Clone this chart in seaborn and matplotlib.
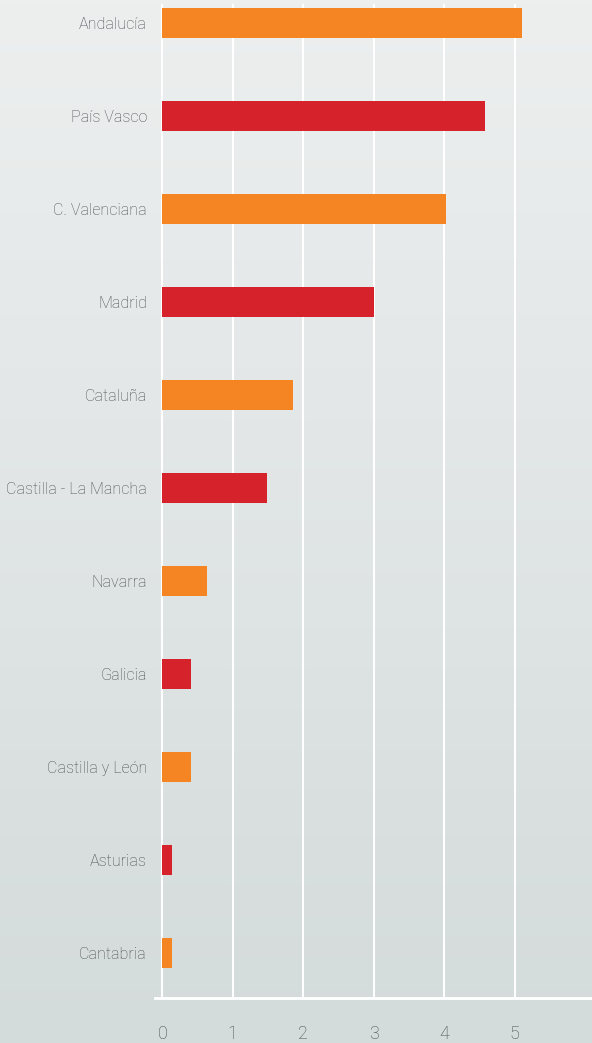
import matplotlib
matplotlib.use("Agg")
import matplotlib.pyplot as plt
import numpy as np
import pandas as pd
import seaborn as sns

regions = ["Andalucía", "País Vasco", "C. Valenciana", "Madrid", "Cataluña",
           "Castilla - La Mancha", "Navarra", "Galicia", "Castilla y León",
           "Asturias", "Cantabria"]
values = [5.11, 4.58, 4.03, 3.01, 1.86, 1.48, 0.64, 0.41, 0.41, 0.13, 0.14]
ORANGE = "#F58423"
RED = "#D5222B"
bar_colors = [ORANGE, RED] * 5 + [ORANGE]
x_ticks = [0, 1, 2, 3, 4, 5]

df = pd.DataFrame({"region": regions, "value": values})

sns.set_style("white")
plt.rcParams["font.family"] = ["Roboto", "DejaVu Sans"]

fig = plt.figure(figsize=(5.92, 10.43), dpi=100)

# gradient background over the whole figure
bg = fig.add_axes([0, 0, 1, 1], zorder=-10)
grad = np.linspace(0, 1, 256).reshape(-1, 1)
cmap = matplotlib.colors.LinearSegmentedColormap.from_list("bg", ["#edefef", "#d4dbdb"])
bg.imshow(grad, aspect="auto", cmap=cmap, extent=[0, 1, 0, 1], origin="upper")
bg.axis("off")

W, H = 592, 1043
left, right, top, bottom = 155.3, 592, 4, 998
ax = fig.add_axes([left / W, 1 - bottom / H, (right - left) / W, (bottom - top) / H])
ax.patch.set_alpha(0)

sns.barplot(data=df, y="region", x="value", hue="region", palette=bar_colors,
            orient="h", width=0.33, legend=False, saturation=1, linewidth=0,
            ax=ax, zorder=3)

ax.set_xlim(-0.1, 6.1)
ax.set_ylim(10.484, -0.204)
ax.set_xticks(x_ticks)
ax.set_xticklabels([str(t) for t in x_ticks])
for t in x_ticks:
    ax.axvline(t, color="white", lw=1.5, zorder=1)

for s in ["top", "right", "left"]:
    ax.spines[s].set_visible(False)
ax.spines["bottom"].set_color("white")
ax.spines["bottom"].set_linewidth(2)

ax.tick_params(axis="x", colors="white", length=8, width=1.5, direction="out",
               pad=11.5, labelcolor="#464c50", labelsize=13)
ax.tick_params(axis="y", length=0, pad=6, labelcolor="#464c50", labelsize=11.6)
for lbl in ax.get_xticklabels() + ax.get_yticklabels():
    lbl.set_fontweight("light")
ax.set_xlabel("")
ax.set_ylabel("")

fig.savefig("out.png", dpi=100)
